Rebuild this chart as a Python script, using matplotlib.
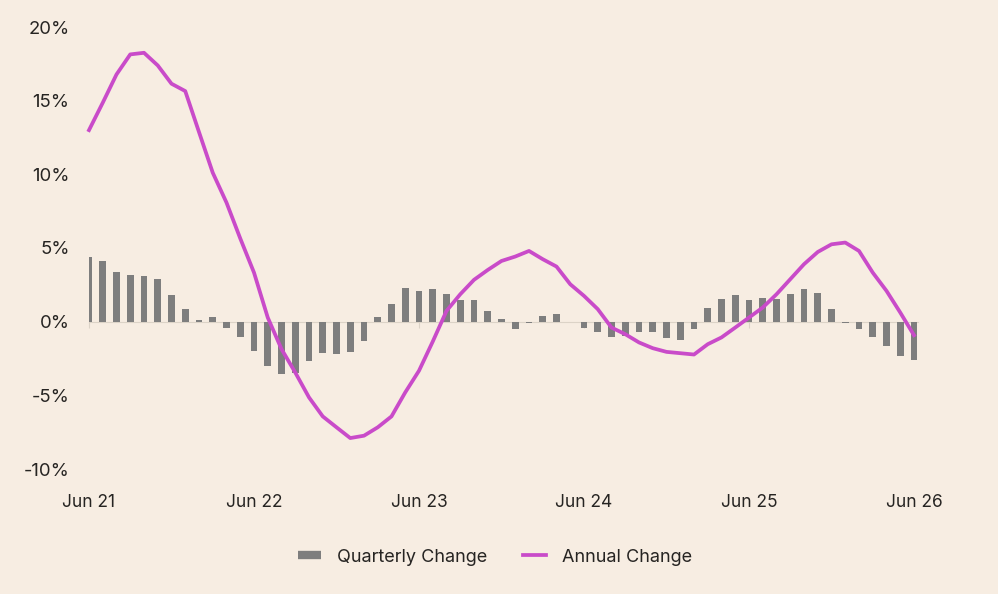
import matplotlib
matplotlib.use("Agg")
import matplotlib.pyplot as plt
from matplotlib.lines import Line2D
import numpy as np

# ---- data (monthly, Jun 21 .. Jun 26) ----
quarterly_change = [4.36, 4.14, 3.39, 3.14, 3.10, 2.87, 1.79, 0.86, 0.14, 0.32,
                    -0.41, -1.02, -1.99, -2.98, -3.55, -3.48, -2.69, -2.12, -2.21, -2.08,
                    -1.29, 0.32, 1.20, 2.26, 2.06, 2.21, 1.85, 1.49, 1.47, 0.72,
                    0.18, -0.50, -0.10, 0.36, 0.50, 0.00, -0.45, -0.70, -1.02, -0.99,
                    -0.72, -0.68, -1.11, -1.24, -0.50, 0.95, 1.51, 1.79, 1.45, 1.58,
                    1.51, 1.85, 2.21, 1.92, 0.86, -0.11, -0.52, -1.02, -1.67, -2.31,
                    -2.62]
annual_change = [13.0, 14.86, 16.78, 18.14, 18.25, 17.39, 16.15, 15.65, 12.87, 10.11,
                 8.08, 5.65, 3.33, 0.28, -1.86, -3.45, -5.14, -6.43, -7.17, -7.90,
                 -7.74, -7.17, -6.43, -4.80, -3.33, -1.35, 0.73, 1.86, 2.84, 3.51,
                 4.12, 4.42, 4.80, 4.24, 3.74, 2.54, 1.75, 0.85, -0.40, -0.85,
                 -1.41, -1.80, -2.05, -2.14, -2.23, -1.53, -1.07, -0.40, 0.28, 0.96,
                 1.86, 2.88, 3.90, 4.73, 5.25, 5.37, 4.80, 3.33, 2.09, 0.62,
                 -0.92]
x_tick_labels = ["Jun 21", "Jun 22", "Jun 23", "Jun 24", "Jun 25", "Jun 26"]
y_ticks = [-10, -5, 0, 5, 10, 15, 20]
series_names = ["Quarterly Change", "Annual Change"]

BG = "#F7EDE2"
BAR = "#7E7E7E"
LINE = "#C94BC9"
TXT = "#262422"
AXL = "#DCD3C7"

plt.rcParams['font.family'] = ['Inter', 'DejaVu Sans']

fig = plt.figure(figsize=(9.98, 5.94), dpi=100, facecolor=BG)
W, H = 998, 594
left_px, right_px = 89, 917.5
top_px, bot_px = 20, 476
ax = fig.add_axes([left_px / W, 1 - bot_px / H, (right_px - left_px) / W, (bot_px - top_px) / H])
ax.set_facecolor(BG)

months = np.arange(len(quarterly_change))
ax.bar(months, quarterly_change, width=0.48, color=BAR, zorder=2)
ax.plot(months, annual_change, color=LINE, lw=2.7, zorder=3, clip_on=False,
        solid_joinstyle='round')

px_per_month = 13.75
ax.set_xlim(0, (right_px - left_px) / px_per_month)
px_per_pct = (469 - 27) / 30.0
ax.set_ylim(-10 - (bot_px - 469) / px_per_pct, 20 + (27 - top_px) / px_per_pct)

for s in ['top', 'right', 'left']:
    ax.spines[s].set_visible(False)
ax.spines['bottom'].set_position(('data', 0))
ax.spines['bottom'].set_color(AXL)
ax.spines['bottom'].set_linewidth(0.8)
ax.spines['bottom'].set_zorder(1)

xt = np.arange(0, len(quarterly_change), 12)
ax.set_xticks(xt)
ax.tick_params(axis='x', direction='out', length=4, color=AXL, width=0.8, labelbottom=False)

sec = ax.secondary_xaxis(0)
sec.set_xticks(xt)
sec.set_xticklabels(x_tick_labels)
sec.spines['bottom'].set_visible(False)
sec.tick_params(axis='x', length=0, pad=13, labelsize=12.5, labelcolor=TXT)

ax.set_yticks(y_ticks)
ax.set_yticklabels([f"{v}%" for v in y_ticks])
ax.tick_params(axis='y', length=0, pad=14, labelsize=13.3, labelcolor=TXT)

handles = [Line2D([0], [0], color=BAR, lw=6, solid_capstyle='butt'),
           Line2D([0], [0], color=LINE, lw=2.7)]
fig.legend(handles, series_names, loc='center', bbox_to_anchor=(495 / W, 1 - 557 / H),
           ncol=2, frameon=False, fontsize=13, labelcolor=TXT, handlelength=1.25,
           handletextpad=0.9, columnspacing=2.0)

fig.savefig("out.png", dpi=100, facecolor=BG)
